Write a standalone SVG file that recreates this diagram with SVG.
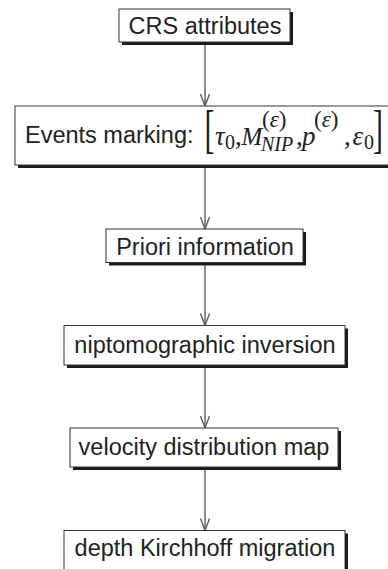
<svg xmlns="http://www.w3.org/2000/svg" width="388" height="569" viewBox="0 0 388 569">
<style>
.sh{fill:#1a1a1a}
.bx{fill:#ffffff;stroke:#333333;stroke-width:1}
.t{font-family:"Liberation Sans",Arial,sans-serif;font-size:23.5px;fill:#222222;text-anchor:middle}
.m{font-family:"Liberation Serif","Times New Roman",serif;font-size:27px;fill:#222222;font-style:italic}
.p{font-family:"Liberation Serif","Times New Roman",serif;font-size:27px;fill:#222222}
.s{font-family:"Liberation Serif","Times New Roman",serif;font-size:20px;fill:#222222}
.u{font-family:"Liberation Serif","Times New Roman",serif;font-size:23px;fill:#222222}
.i{font-style:italic}
.br{font-family:"Liberation Serif","Times New Roman",serif;font-size:30px;fill:#222222}
.c{stroke:#5e5e5e;stroke-width:1.4;fill:none}
</style>
<defs>
<marker id="ah" viewBox="0 0 14 10" refX="13" refY="5" markerWidth="14" markerHeight="10" markerUnits="userSpaceOnUse" orient="auto">
<path d="M1,0.5 L13,5 L1,9.5" fill="none" stroke="#5e5e5e" stroke-width="1.4"/>
</marker>
</defs>
<g id="connectors">
<line class="c" x1="205" y1="45" x2="205" y2="106" marker-end="url(#ah)"/>
<line class="c" x1="205" y1="168" x2="205" y2="229" marker-end="url(#ah)"/>
<line class="c" x1="205" y1="265.5" x2="205" y2="325.5" marker-end="url(#ah)"/>
<line class="c" x1="205" y1="368" x2="205" y2="428" marker-end="url(#ah)"/>
<line class="c" x1="205" y1="470" x2="205" y2="530.5" marker-end="url(#ah)"/>
</g>
<g id="n1">
<rect class="sh" x="122" y="12" width="171" height="33"/>
<rect class="bx" x="119" y="9" width="171" height="33"/>
<text class="t" x="205" y="34">CRS attributes</text>
</g>
<g id="n2">
<rect class="sh" x="18" y="109" width="380" height="59"/>
<rect class="bx" x="15" y="106" width="380" height="59"/>
<text class="t" x="25" y="143" style="text-anchor:start">Events marking:</text>
<text class="br" transform="translate(204.5,146.8) scale(1,1.75)">[</text>
<text class="m" x="215" y="145">τ</text>
<text class="s" x="225" y="149">0</text>
<text class="p" x="235" y="145">,</text>
<text class="m" x="241.5" y="145" style="font-size:25px">M</text>
<text class="u" x="262" y="127">(<tspan class="i">ε</tspan>)</text>
<text class="s i" x="261" y="151">NIP</text>
<text class="p" x="296" y="145">,</text>
<text class="m" x="302" y="145">p</text>
<text class="u" x="314" y="127">(<tspan class="i">ε</tspan>)</text>
<text class="p" x="344" y="145">,</text>
<text class="m" x="352.5" y="145">ε</text>
<text class="s" x="364" y="149">0</text>
<text class="br" transform="translate(373,146.8) scale(1,1.75)">]</text>
</g>
<g id="n3">
<rect class="sh" x="109" y="232" width="197" height="33.5"/>
<rect class="bx" x="106" y="229" width="197" height="33.5"/>
<text class="t" x="205" y="254.5">Priori information</text>
</g>
<g id="n4">
<rect class="sh" x="67" y="328.5" width="281" height="39.5"/>
<rect class="bx" x="64" y="325.5" width="281" height="39.5"/>
<text class="t" x="205" y="353">niptomographic inversion</text>
</g>
<g id="n5">
<rect class="sh" x="73" y="431" width="268" height="39"/>
<rect class="bx" x="70" y="428" width="268" height="39"/>
<text class="t" x="204" y="455">velocity distribution map</text>
</g>
<g id="n6">
<rect class="sh" x="67" y="533.5" width="281" height="50"/>
<rect class="bx" x="64" y="530.5" width="281" height="50"/>
<text class="t" x="205" y="556">depth Kirchhoff migration</text>
</g>
</svg>
